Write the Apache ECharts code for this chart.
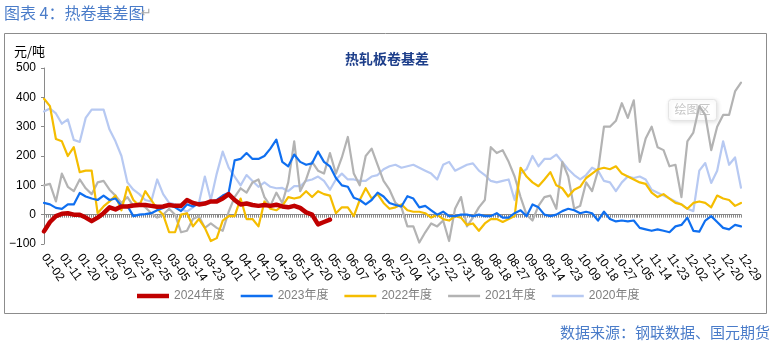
<!DOCTYPE html>
<html>
<head>
<meta charset="utf-8">
<script src="https://cdn.jsdelivr.net/npm/echarts@6/dist/echarts.min.js"></script>
<style>
  html, body { margin: 0; padding: 0; background: #ffffff; }
  #main { width: 771px; height: 345px; }
</style>
</head>
<body>
<div id="main"></div>
<script>
// Calendar of the x axis: every day of the year except the market holidays.
const FIRST_DAY = '2024-01-02';
const LAST_DAY = '2024-12-29';
const HOLIDAYS = ['04-04', '05-01', '05-02', '05-03',
  '10-01', '10-02', '10-03', '10-04', '10-05', '10-06', '10-07'];
const TICK_LABELS = ['01-02', '01-11', '01-20', '01-29', '02-07', '02-16', '02-25', '03-05', '03-14', '03-23',
  '04-01', '04-11', '04-20', '04-29', '05-11', '05-20', '05-29', '06-07', '06-16', '06-25',
  '07-04', '07-13', '07-22', '07-31', '08-09', '08-18', '08-27', '09-05', '09-14', '09-23',
  '10-09', '10-18', '10-27', '11-05', '11-14', '11-23', '12-02', '12-11', '12-20', '12-29'];

// Basis readings (元/吨), one reading every STEP calendar slots from 01-02.
const STEP = 3;
const basis2024 = [-57, -25, -5, 3, 5, 0, 0, -10, -22, -10, 5, 25, 18, 28, 28, 31, 33, 33, 30, 27,
  28, 33, 30, 30, 50, 40, 35, 38, 45, 45, 55, 70, 50, 35, 38, 33, 30, 33, 30, 34,
  28, 25, 30, 23, 8, 0, -33, -25, -17];
const basis2023 = [40, 35, 23, 20, 35, 35, 74, 62, 55, 50, 65, 50, 55, 30, 30, -5, 0, 2, 5, 15,
  23, 35, 25, 12, 35, 28, 40, 40, 45, 50, 65, 75, 185, 190, 210, 190, 190, 200, 225, 256,
  180, 165, 205, 180, 170, 175, 215, 180, 165, 125, 100, 95, 58, 50, 35, 50, 75, 62, 40, 33,
  28, 63, 55, 25, 30, 15, 0, 10, -5, -5, 0, 0, -5, 0, -5, -5, 5, -10,
  -10, 5, 15, -5, 35, 25, 0, -5, 0, 12, 20, 15, 5, 10, 5, -20, 10, -15, -23, -20,
  -23, -20, -45, -50, -55, -50, -55, -60, -40, -35, -10, -55, -58, -20, -5, -25, -45, -50, -35, -40];
const basis2022 = [395, 370, 258, 250, 200, 230, 145, 150, 150, 5, 28, 45, 65, 15, 95, 50, 30, 80, 50, 20,
  0, -60, -60, 0, 5, -40, -15, -45, -90, -80, -20, -5, -5, 55, -15, -15, -40, 45, 20, 15,
  30, 60, 55, 60, 80, 60, 80, 70, 65, 5, 25, 25, -5, 50, 90, 55, 70, 40, 20, 25,
  35, 15, 10, 10, 5, -10, 0, -15, -20, -5, -10, -35, -30, -55, -30, -15, -15, -25,
  -15, -5, 160, 130, 110, 97, 120, 145, 100, 90, 62, 85, 95, 125, 140, 155, 160, 155, 165, 140,
  130, 120, 110, 105, 75, 60, 70, 55, 40, 35, 20, 40, 45, 40, 25, 65, 55, 50, 30, 40];
const basis2021 = [100, 105, 45, 140, 95, 80, 120, 90, 70, 110, 115, 85, 65, 40, 60, 30, 40, 25, 5, -10,
  0, 20, 0, -60, -55, -15, -5, -45, -30, -45, -55, 10, 60, 90, 75, 110, 120, 60, 30, 75,
  40, 110, 250, 80, 120, 180, 150, 140, 210, 140, 195, 265, 140, 100, 200, 225, 170, 115, 85, 40,
  25, -40, -40, -95, -60, -30, -40, -20, -90, 20, 60, -40, -10, 25, 50, 230, 210, 220,
  180, 130, 60, 0, -20, 30, 60, 65, 20, 180, 130, 20, 30, 110, 80, 150, 300, 300, 320, 380,
  330, 390, 180, 260, 300, 230, 220, 165, 170, 60, 250, 280, 370, 340, 220, 300, 340, 340, 420, 450];
const basis2020 = [352, 362, 345, 310, 325, 255, 248, 330, 358, 358, 358, 290, 250, 200, 110, 85, 70, 50, 45, 120,
  70, 40, 35, 20, 10, 25, 40, 130, 50, 140, 215, 160, 130, 100, 135, 115, 95, 110, 95, 90,
  91, 80, 97, 97, 115, 120, 130, 115, 85, 120, 140, 120, 120, 115, 115, 130, 135, 155, 165, 170,
  160, 165, 170, 160, 150, 140, 120, 170, 180, 150, 160, 170, 175, 150, 135, 115, 110, 115,
  120, 50, 140, 155, 200, 165, 190, 190, 205, 180, 155, 135, 120, 135, 160, 150, 115, 110, 80, 110,
  130, 125, 130, 120, 85, 75, 65, 55, 45, 35, 20, 12, 150, 176, 108, 150, 250, 170, 195, 92];

const SERIES_NAMES = ['2024年度', '2023年度', '2022年度', '2021年度', '2020年度'];
const SERIES_COLORS = ['#C00000', '#0F6FF0', '#F5BD00', '#B3B3B3', '#B7C9F2'];
const SERIES_WIDTHS = [4.5, 2.2, 2.2, 2.2, 2.2];
const SERIES_VALUES = [basis2024, basis2023, basis2022, basis2021, basis2020];

const FONT = '"Liberation Sans", Arial, "Noto Sans CJK SC", sans-serif';
const CJK = '"Noto Sans CJK SC", "Liberation Sans", sans-serif';

function buildCategories() {
  const out = [];
  const d = new Date(FIRST_DAY + 'T00:00:00Z');
  const end = new Date(LAST_DAY + 'T00:00:00Z');
  while (d <= end) {
    const mm = String(d.getUTCMonth() + 1).padStart(2, '0');
    const dd = String(d.getUTCDate()).padStart(2, '0');
    const key = mm + '-' + dd;
    if (HOLIDAYS.indexOf(key) < 0) out.push(key);
    d.setUTCDate(d.getUTCDate() + 1);
  }
  return out;
}
const categories = buildCategories();
const labelSet = new Set(TICK_LABELS);

// Draw order: oldest year underneath, current year on top.
const series = SERIES_NAMES.map((name, k) => ({
  name: name,
  type: 'line',
  xAxisIndex: 0,
  symbol: 'none',
  smooth: false,
  connectNulls: true,
  z: 10 - k,
  lineStyle: { color: SERIES_COLORS[k], width: SERIES_WIDTHS[k], join: 'round', cap: 'round' },
  itemStyle: { color: SERIES_COLORS[k] },
  data: SERIES_VALUES[k].map((v, j) => [j * STEP, v])
}));

// Legend keys: plain strokes, as thick as the series they stand for.
const legendData = SERIES_NAMES.map((name, k) => ({
  name: name,
  icon: 'path://M0 0H32V' + (k === 0 ? 4.5 : 2.4) + 'H0Z'
}));

const chart = echarts.init(document.getElementById('main'), null, { renderer: 'canvas' });
chart.setOption({
  animation: false,
  backgroundColor: '#ffffff',
  title: [
    {
      text: '热轧板卷基差',
      left: 340, top: 47,
      textStyle: { color: '#1D3E8A', fontSize: 14, fontWeight: 'bold', fontFamily: CJK }
    }
  ],
  grid: { left: 44, right: 30, top: 68, bottom: 101, containLabel: false },
  legend: {
    data: legendData,
    left: 132, top: 285,
    itemWidth: 32, itemHeight: 14, itemGap: 16,
    symbolKeepAspect: true,
    textStyle: { color: '#7F7F7F', fontSize: 12, fontFamily: FONT }
  },
  xAxis: [
    {
      type: 'category',
      data: categories,
      boundaryGap: false,
      position: 'bottom',
      axisLine: { show: false, onZero: false },
      axisTick: { show: false },
      splitLine: { show: false },
      axisLabel: {
        interval: (idx, val) => labelSet.has(val) && idx % 9 === 0,
        rotate: -55,
        margin: 11,
        color: '#000000',
        fontSize: 12,
        fontFamily: FONT
      }
    },
    {
      type: 'category',
      data: categories,
      boundaryGap: false,
      position: 'top',
      axisLine: { show: true, onZero: true, lineStyle: { color: '#8A8A8A', width: 1.2 } },
      axisTick: { show: true, interval: 0, inside: true, length: 3, lineStyle: { color: '#8A8A8A', width: 1 } },
      axisLabel: { show: false },
      splitLine: { show: false }
    }
  ],
  yAxis: {
    type: 'value',
    min: -100, max: 500, interval: 100,
    axisLine: { show: true, lineStyle: { color: '#8A8A8A', width: 1 } },
    axisTick: { show: true, length: 3, lineStyle: { color: '#8A8A8A' } },
    splitLine: { show: false },
    axisLabel: {
      margin: 8,
      color: '#000000',
      fontSize: 12,
      fontFamily: FONT,
      formatter: v => (v < 0 ? '\u2212' + Math.abs(v) : String(v))
    }
  },
  graphic: [
    { type: 'rect', silent: true, z: 0,
      shape: { x: 4.5, y: 33.5, width: 762, height: 280 },
      style: { fill: 'none', stroke: '#8C8C8C', lineWidth: 1 } },
    { type: 'text', silent: true, left: 4, top: 5,
      style: { text: '图表 4：热卷基差图', fill: '#4A7CC9', font: '16px ' + CJK } },
    { type: 'text', silent: true, left: 141, top: 7,
      style: { text: '\u21B5', fill: '#A6A6A6', font: '13px "DejaVu Sans", sans-serif' } },
    { type: 'text', silent: true, left: 14, top: 45,
      style: { text: '元/吨', fill: '#000000', font: '13px ' + CJK } },
    { type: 'group', silent: true, left: 668, top: 99, z: 50, children: [
      { type: 'rect', shape: { x: 0, y: 0, width: 48, height: 21, r: 3 },
        style: { fill: '#ffffff', stroke: '#E4E4E4', lineWidth: 1,
          shadowBlur: 4, shadowColor: 'rgba(0,0,0,0.12)', shadowOffsetX: 1, shadowOffsetY: 1 } },
      { type: 'text', x: 6, y: 4, style: { text: '绘图区', fill: '#C6C6C6', font: '12px ' + CJK } }
    ] },
    { type: 'text', silent: true, right: 1, top: 325,
      style: { text: '数据来源：钢联数据、国元期货', fill: '#4A7CC9', font: '15px ' + CJK } }
  ],
  series: series
});
</script>
</body>
</html>
